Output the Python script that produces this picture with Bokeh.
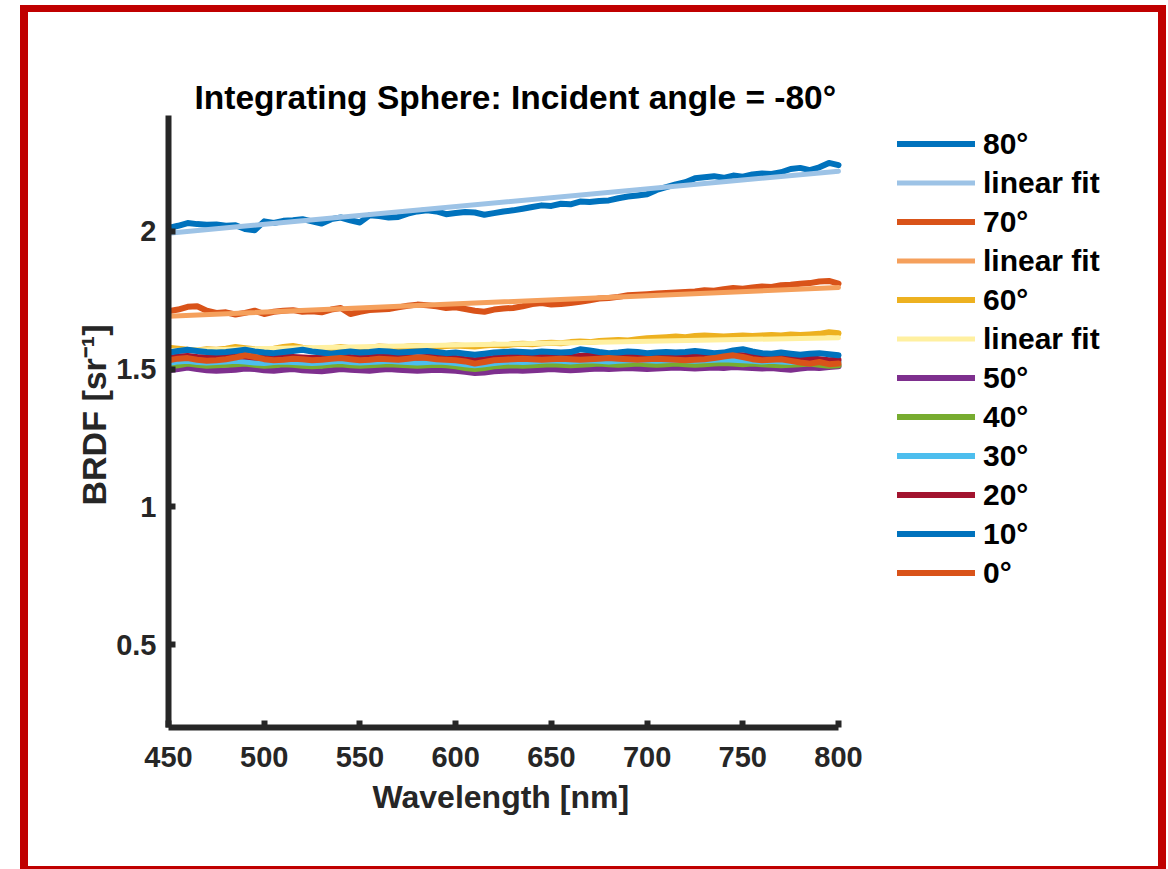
from bokeh.plotting import figure
from bokeh.models import Legend, LegendItem, FixedTicker, CustomJSTickFormatter, Title
from bokeh.embed import file_html
from bokeh.resources import INLINE

# Wavelength sampling grid [nm]
wavelength = list(range(450, 805, 5))

# Measured BRDF [sr^-1] per detector angle
brdf_80 = [2.012, 2.020, 2.030, 2.026, 2.024, 2.025, 2.020, 2.022, 2.008, 2.004,
           2.036, 2.030, 2.038, 2.040, 2.044, 2.036, 2.028, 2.044, 2.050, 2.040,
           2.032, 2.058, 2.055, 2.050, 2.052, 2.064, 2.072, 2.076, 2.072, 2.062,
           2.066, 2.070, 2.068, 2.060, 2.066, 2.072, 2.076, 2.082, 2.088, 2.094,
           2.092, 2.100, 2.098, 2.108, 2.106, 2.110, 2.112, 2.120, 2.126, 2.130,
           2.134, 2.150, 2.160, 2.170, 2.178, 2.192, 2.196, 2.200, 2.194, 2.202,
           2.198, 2.206, 2.210, 2.208, 2.214, 2.226, 2.230, 2.222, 2.232, 2.248,
           2.240]
brdf_70 = [1.710, 1.716, 1.726, 1.728, 1.712, 1.704, 1.706, 1.698, 1.704, 1.712,
           1.700, 1.708, 1.712, 1.714, 1.708, 1.710, 1.706, 1.716, 1.722, 1.700,
           1.708, 1.714, 1.716, 1.718, 1.724, 1.730, 1.734, 1.732, 1.728, 1.722,
           1.724, 1.718, 1.712, 1.708, 1.716, 1.720, 1.722, 1.728, 1.736, 1.740,
           1.734, 1.736, 1.740, 1.744, 1.750, 1.756, 1.758, 1.762, 1.768, 1.770,
           1.772, 1.774, 1.776, 1.778, 1.780, 1.782, 1.786, 1.784, 1.790, 1.794,
           1.792, 1.796, 1.800, 1.798, 1.804, 1.806, 1.810, 1.812, 1.818, 1.820,
           1.810]
brdf_60 = [1.578, 1.574, 1.570, 1.568, 1.572, 1.570, 1.574, 1.580, 1.576, 1.572,
           1.570, 1.574, 1.580, 1.584, 1.578, 1.574, 1.572, 1.576, 1.580, 1.576,
           1.574, 1.578, 1.582, 1.580, 1.578, 1.582, 1.584, 1.582, 1.580, 1.584,
           1.586, 1.584, 1.582, 1.586, 1.588, 1.586, 1.590, 1.592, 1.590, 1.594,
           1.596, 1.594, 1.598, 1.600, 1.598, 1.602, 1.604, 1.606, 1.604, 1.608,
           1.612, 1.614, 1.616, 1.618, 1.616, 1.620, 1.622, 1.620, 1.618, 1.620,
           1.622, 1.620, 1.622, 1.624, 1.622, 1.626, 1.624, 1.626, 1.628, 1.634,
           1.630]
brdf_50 = [1.496, 1.500, 1.506, 1.500, 1.496, 1.494, 1.496, 1.498, 1.502, 1.500,
           1.496, 1.494, 1.498, 1.500, 1.496, 1.494, 1.492, 1.496, 1.500, 1.498,
           1.496, 1.494, 1.498, 1.500, 1.498, 1.496, 1.494, 1.496, 1.498, 1.496,
           1.494, 1.490, 1.486, 1.488, 1.492, 1.494, 1.496, 1.494, 1.496, 1.498,
           1.500, 1.498, 1.496, 1.498, 1.500, 1.502, 1.500, 1.502, 1.504, 1.502,
           1.500, 1.502, 1.504, 1.506, 1.504, 1.502, 1.504, 1.506, 1.504, 1.508,
           1.506, 1.504, 1.502, 1.504, 1.500, 1.498, 1.502, 1.506, 1.504, 1.508,
           1.510]
brdf_40 = [1.510, 1.514, 1.520, 1.516, 1.512, 1.514, 1.516, 1.518, 1.520, 1.516,
           1.512, 1.514, 1.518, 1.516, 1.512, 1.510, 1.512, 1.516, 1.518, 1.514,
           1.512, 1.514, 1.516, 1.518, 1.516, 1.514, 1.512, 1.514, 1.516, 1.514,
           1.510, 1.504, 1.500, 1.504, 1.510, 1.512, 1.514, 1.512, 1.514, 1.516,
           1.518, 1.516, 1.514, 1.516, 1.518, 1.520, 1.518, 1.516, 1.518, 1.520,
           1.518, 1.516, 1.518, 1.520, 1.518, 1.516, 1.518, 1.520, 1.522, 1.520,
           1.518, 1.520, 1.518, 1.516, 1.514, 1.516, 1.518, 1.520, 1.516, 1.512,
           1.514]
brdf_30 = [1.522, 1.528, 1.530, 1.526, 1.524, 1.526, 1.528, 1.530, 1.528, 1.524,
           1.522, 1.526, 1.528, 1.526, 1.524, 1.522, 1.524, 1.528, 1.530, 1.526,
           1.524, 1.526, 1.528, 1.530, 1.528, 1.526, 1.524, 1.526, 1.528, 1.526,
           1.522, 1.518, 1.514, 1.518, 1.522, 1.526, 1.528, 1.526, 1.528, 1.530,
           1.532, 1.530, 1.528, 1.530, 1.532, 1.530, 1.528, 1.530, 1.532, 1.534,
           1.532, 1.530, 1.532, 1.534, 1.532, 1.530, 1.532, 1.534, 1.536, 1.534,
           1.532, 1.530, 1.528, 1.530, 1.528, 1.526, 1.528, 1.530, 1.528, 1.524,
           1.526]
brdf_20 = [1.540, 1.546, 1.548, 1.544, 1.542, 1.544, 1.546, 1.548, 1.546, 1.542,
           1.540, 1.544, 1.546, 1.544, 1.542, 1.540, 1.542, 1.546, 1.548, 1.544,
           1.542, 1.544, 1.546, 1.548, 1.546, 1.544, 1.542, 1.544, 1.546, 1.544,
           1.540, 1.536, 1.532, 1.536, 1.540, 1.544, 1.546, 1.544, 1.546, 1.548,
           1.550, 1.548, 1.546, 1.548, 1.550, 1.548, 1.546, 1.548, 1.550, 1.552,
           1.550, 1.548, 1.550, 1.552, 1.550, 1.548, 1.550, 1.552, 1.554, 1.552,
           1.550, 1.548, 1.546, 1.548, 1.546, 1.544, 1.542, 1.540, 1.536, 1.532,
           1.534]
brdf_10 = [1.560, 1.566, 1.570, 1.566, 1.562, 1.560, 1.562, 1.566, 1.570, 1.564,
           1.560, 1.558, 1.562, 1.566, 1.570, 1.564, 1.560, 1.556, 1.560, 1.564,
           1.560, 1.562, 1.566, 1.564, 1.560, 1.562, 1.564, 1.566, 1.562, 1.558,
           1.560, 1.556, 1.552, 1.556, 1.560, 1.562, 1.564, 1.562, 1.560, 1.564,
           1.562, 1.560, 1.562, 1.572, 1.568, 1.562, 1.558, 1.560, 1.564, 1.562,
           1.558, 1.560, 1.562, 1.560, 1.562, 1.566, 1.562, 1.558, 1.560, 1.568,
           1.572, 1.564, 1.558, 1.556, 1.560, 1.556, 1.552, 1.556, 1.558, 1.554,
           1.550]
brdf_0 = [1.532, 1.538, 1.540, 1.534, 1.530, 1.532, 1.536, 1.542, 1.550, 1.544,
          1.536, 1.532, 1.534, 1.538, 1.536, 1.532, 1.534, 1.538, 1.540, 1.536,
          1.532, 1.534, 1.538, 1.536, 1.534, 1.538, 1.542, 1.540, 1.536, 1.534,
          1.532, 1.528, 1.520, 1.526, 1.532, 1.534, 1.536, 1.538, 1.536, 1.534,
          1.536, 1.538, 1.536, 1.534, 1.536, 1.538, 1.540, 1.538, 1.536, 1.534,
          1.536, 1.538, 1.536, 1.534, 1.532, 1.534, 1.536, 1.540, 1.546, 1.550,
          1.544, 1.536, 1.532, 1.534, 1.536, 1.530, 1.524, 1.520, 1.526, 1.518,
          1.520]

# Linear fits: BRDF at the two ends of the band (450 nm, 800 nm)
fit_ends = [450, 800]
fit_80 = [1.993, 2.218]
fit_70 = [1.692, 1.796]
fit_60 = [1.568, 1.614]

# Axis ticks and drawn axis extent
x_ticks = [450, 500, 550, 600, 650, 700, 750, 800]
y_ticks = [0.5, 1, 1.5, 2]
x_axis_span = (450, 800)

FONT = "Liberation Sans"
INK = "#262626"

# Canvas size and frame placement. The frame runs on to the right so the
# legend can sit beside the data; the x axis is bounded to 450-800 nm,
# which occupies the first 670 px of the frame.
W, H = 1146, 864
FRAME_LEFT, FRAME_TOP = 140, 103
FRAME_WIDTH, FRAME_HEIGHT = 980, 612
X_END = 450 + 350 * FRAME_WIDTH / 670

p = figure(
    width=W, height=H,
    x_range=(450, X_END), y_range=(0.2, 2.42),
    output_backend="svg", toolbar_location=None,
    min_border_left=FRAME_LEFT, min_border_right=W - FRAME_LEFT - FRAME_WIDTH,
    min_border_top=FRAME_TOP, min_border_bottom=H - FRAME_TOP - FRAME_HEIGHT,
    title="Integrating Sphere: Incident angle = -80°",
    styles={
        "border-style": "solid",
        "border-color": "#C00000",
        "border-width": "7px 8px 3px 8px",
        "margin-left": "20px",
        "margin-top": "5px",
    },
)
p.outline_line_color = None
p.grid.visible = False
p.background_fill_color = "white"
p.border_fill_color = "white"

p.title.text_font = FONT
p.title.text_font_size = "33.5px"
p.title.text_font_style = "bold"
p.title.text_color = "black"
p.title.align = "left"
p.title.offset = 26
p.title.standoff = 0

# (label, values, colour, width, is_fit) drawn in this order, last on top
series = [
    ("80°", brdf_80, "#0072BD", 6, False),
    ("linear fit", fit_80, "#9DC3E6", 5, True),
    ("70°", brdf_70, "#D95319", 6, False),
    ("linear fit", fit_70, "#F5A05C", 5, True),
    ("60°", brdf_60, "#EDB120", 6, False),
    ("linear fit", fit_60, "#FFF0A0", 5, True),
    ("50°", brdf_50, "#7E2F8E", 6, False),
    ("40°", brdf_40, "#77AC30", 6, False),
    ("30°", brdf_30, "#4DBEEE", 6, False),
    ("20°", brdf_20, "#A2142F", 6, False),
    ("10°", brdf_10, "#0072BD", 6, False),
    ("0°", brdf_0, "#D95319", 6, False),
]

items = []
for label, vals, color, lw, is_fit in series:
    xs = fit_ends if is_fit else wavelength
    r = p.line(xs, vals, line_color=color, line_width=lw, line_join="round", line_cap="round")
    items.append(LegendItem(label=label, renderers=[r]))

legend = Legend(
    items=items,
    location=(729, 135),
    orientation="vertical",
    glyph_width=78, glyph_height=39, label_height=39,
    spacing=0, padding=0, margin=0,
    label_standoff=8,
    label_text_font=FONT, label_text_font_size="30px",
    label_text_font_style="bold", label_text_color="black",
    border_line_color=None, background_fill_alpha=0,
)
p.add_layout(legend, "center")

for ax in (p.xaxis[0], p.yaxis[0]):
    ax.axis_line_width = 6
    ax.axis_line_color = INK
    ax.major_tick_line_width = 6
    ax.major_tick_line_color = INK
    ax.major_tick_in = 7
    ax.major_tick_out = 0
    ax.minor_tick_line_color = None
    ax.major_label_text_font = FONT
    ax.major_label_text_font_size = "29px"
    ax.major_label_text_font_style = "bold"
    ax.major_label_text_color = INK

p.xaxis.bounds = x_axis_span
p.xaxis.ticker = FixedTicker(ticks=x_ticks)
p.yaxis.ticker = FixedTicker(ticks=y_ticks)
p.yaxis.formatter = CustomJSTickFormatter(code="return String(tick)")
p.xaxis.major_label_standoff = 19
p.yaxis.major_label_standoff = 12

# Axis titles, positioned along the bounded axes
xlabel = Title(text="Wavelength [nm]", align="left", offset=204, standoff=14,
               text_font=FONT, text_font_size="32px", text_font_style="bold",
               text_color=INK)
p.add_layout(xlabel, "below")
ylabel = Title(text="BRDF [sr⁻¹]", align="left", offset=222, standoff=2,
               text_font=FONT, text_font_size="34px", text_font_style="bold",
               text_color=INK)
p.add_layout(ylabel, "left")

open("out.html", "w").write(file_html(p, INLINE))
